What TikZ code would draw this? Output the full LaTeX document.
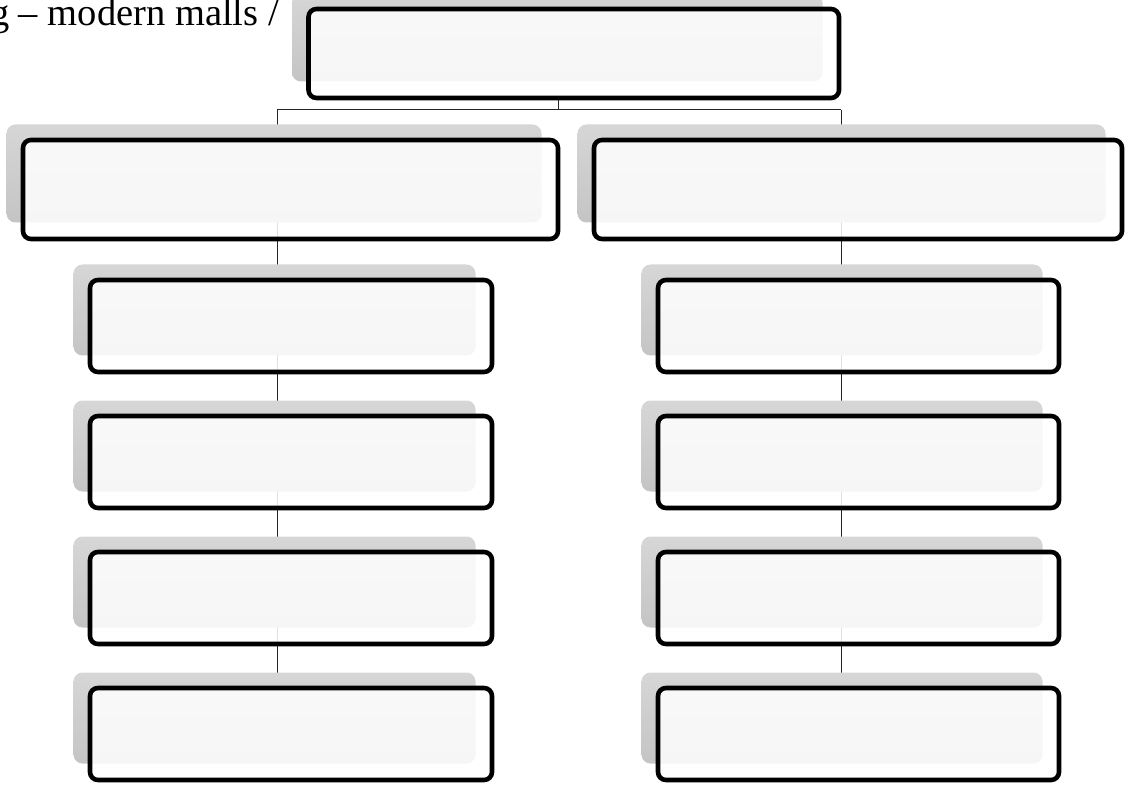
\documentclass[tikz,border=0pt]{standalone}
\usepackage{fontspec}
\setmainfont{Liberation Serif}
\pgfdeclarelayer{lines}
\pgfdeclarelayer{shadows}
\pgfsetlayers{lines,shadows,main}
\begin{document}
\begin{tikzpicture}[x=1pt,y=-1pt,
  box/.style={draw=black, line width=4.6pt, rounded corners=8pt, fill=white, fill opacity=0.86, text opacity=1, inner sep=0pt, outer sep=0pt},
  shadowbox/.style={rounded corners=9pt, top color=black!16, bottom color=black!23, draw=none},
  conn/.style={draw=black!85, line width=1pt}]
\useasboundingbox (0,0) rectangle (1133,786);
\coordinate (jT) at (558,110);
\coordinate (jL) at (277,110);
\coordinate (jR) at (841,110);
% shadows
\newcommand{\shad}[4]{\path[shadowbox] (#1-16.5,#2-15.5) rectangle (#3-16.5,#4-16.5);}
\begin{pgfonlayer}{shadows}
\shad{308.5}{9}{839}{98}
\shad{23}{140}{558}{239}
\shad{594}{140}{1122}{239}
\foreach \y in {280,416,552,688}{
  \shad{90}{\y}{492}{\y+92}
  \shad{658}{\y}{1059}{\y+92}
}
\end{pgfonlayer}
% boxes
\node[box, minimum width=530.5pt, minimum height=89pt] (top) at (573.75,53.5) {};
\node[box, minimum width=535pt, minimum height=99pt] (l2L) at (290.5,189.5) {};
\node[box, minimum width=528pt, minimum height=99pt] (l2R) at (858,189.5) {};
\node[box, minimum width=402pt, minimum height=92pt] (l3L) at (291,326) {};
\node[box, minimum width=402pt, minimum height=92pt] (l4L) at (291,462) {};
\node[box, minimum width=402pt, minimum height=92pt] (l5L) at (291,598) {};
\node[box, minimum width=402pt, minimum height=92pt] (l6L) at (291,734) {};
\node[box, minimum width=401pt, minimum height=92pt] (l3R) at (858.5,326) {};
\node[box, minimum width=401pt, minimum height=92pt] (l4R) at (858.5,462) {};
\node[box, minimum width=401pt, minimum height=92pt] (l5R) at (858.5,598) {};
\node[box, minimum width=401pt, minimum height=92pt] (l6R) at (858.5,734) {};
% connectors behind shadows and boxes
\begin{pgfonlayer}{lines}
\draw[conn] (top.south -| jT) -- (jT);
\draw[conn] (jL) -- (jR);
\draw[conn] (jL) -- (l6L.north -| jL);
\draw[conn] (jR) -- (l6R.north -| jR);
\end{pgfonlayer}
% cut-off caption text
\node[anchor=base east, inner sep=0pt, font=\fontsize{38.5}{42}\selectfont] (cap) at (279,26) {g – modern malls /};
\end{tikzpicture}
\end{document}
